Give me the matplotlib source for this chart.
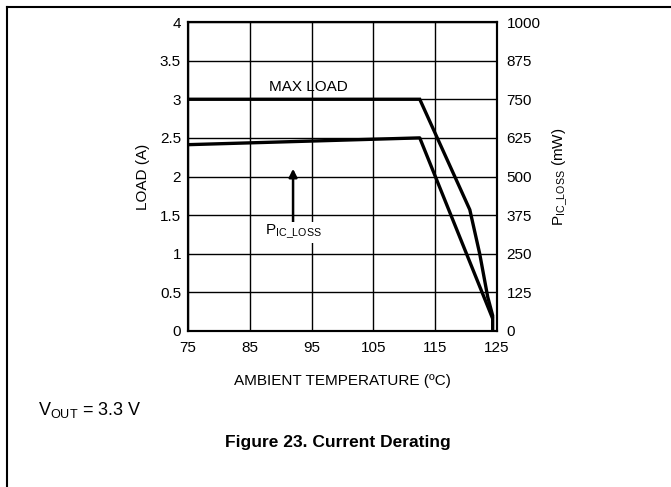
import matplotlib
matplotlib.use("Agg")
import matplotlib.pyplot as plt
from matplotlib.lines import Line2D

plt.rcParams['font.family'] = ['Liberation Sans', 'DejaVu Sans']

# Data
temp_maxload = [75, 112.5, 120.6, 122.2, 123.5, 124.3, 124.3]
load_max = [3.0, 3.0, 1.57, 1.0, 0.44, 0.2, 0.0]
temp_ploss = [75, 112.5, 124.2]
ploss_mw = [603, 625, 45]
x_ticks = [75, 85, 95, 105, 115, 125]
y_ticks = [0, 0.5, 1, 1.5, 2, 2.5, 3, 3.5, 4]
y_tick_labels = ['0', '0.5', '1', '1.5', '2', '2.5', '3', '3.5', '4']
y2_ticks = [0, 125, 250, 375, 500, 625, 750, 875, 1000]

W, H = 671, 487
fig = plt.figure(figsize=(W / 100, H / 100), dpi=100)
ax = fig.add_axes([188 / W, 1 - 331 / H, (497 - 188) / W, (331 - 22) / H])

ax.set_xlim(75, 125)
ax.set_ylim(0, 4)
ax.set_xticks(x_ticks)
ax.set_yticks(y_ticks)
ax.set_yticklabels(y_tick_labels)
ax.grid(True, color='black', linewidth=1.0)
ax.set_axisbelow(True)
ax.tick_params(axis='both', length=0, labelsize=11)
ax.tick_params(axis='y', pad=5)
ax.tick_params(axis='x', pad=7)
for s in ax.spines.values():
    s.set_linewidth(1.5)

ax.plot(temp_maxload, load_max, color='black', linewidth=2.4, solid_joinstyle='miter')

ax2 = ax.twinx()
ax2.set_ylim(0, 1000)
ax2.set_yticks(y2_ticks)
ax2.tick_params(axis='y', length=0, labelsize=11, pad=7)
ax2.plot(temp_ploss, ploss_mw, color='black', linewidth=2.4)
for s in ax2.spines.values():
    s.set_linewidth(1.5)

ax.set_ylabel('LOAD (A)', fontsize=11, labelpad=7)
ax2.set_ylabel(r'P$_{\mathregular{IC\_LOSS}}$ (mW)', fontsize=11, labelpad=7)
ax.set_xlabel('AMBIENT TEMPERATURE (ºC)', fontsize=11, labelpad=14)

ax.text(94.5, 3.07, 'MAX LOAD', fontsize=11, ha='center', va='bottom')
ax.annotate('', xy=(92, 2.1), xytext=(92, 1.4),
            arrowprops=dict(arrowstyle='-|>', color='black', lw=1.8,
                            mutation_scale=12, shrinkA=0, shrinkB=0))
ax.text(92, 1.28, r'P$_{\mathregular{IC\_LOSS}}$', fontsize=11,
        ha='center', va='center',
        bbox=dict(facecolor='white', edgecolor='none', pad=1))

fig.text(38 / W, 1 - 410 / H, r'V$_{\mathregular{OUT}}$ = 3.3 V', fontsize=13,
         ha='left', va='center')
fig.text(338 / W, 1 - 442 / H, 'Figure 23. Current Derating', fontsize=12.5,
         fontweight='bold', ha='center', va='center')

# Border lines
fig.add_artist(Line2D([7 / W, 1.0], [1 - 7 / H, 1 - 7 / H], color='black', linewidth=1.5,
                      transform=fig.transFigure))
fig.add_artist(Line2D([7 / W, 7 / W], [1 - 7 / H, 0.0], color='black', linewidth=1.5,
                      transform=fig.transFigure))

fig.savefig('out.png', dpi=100)
